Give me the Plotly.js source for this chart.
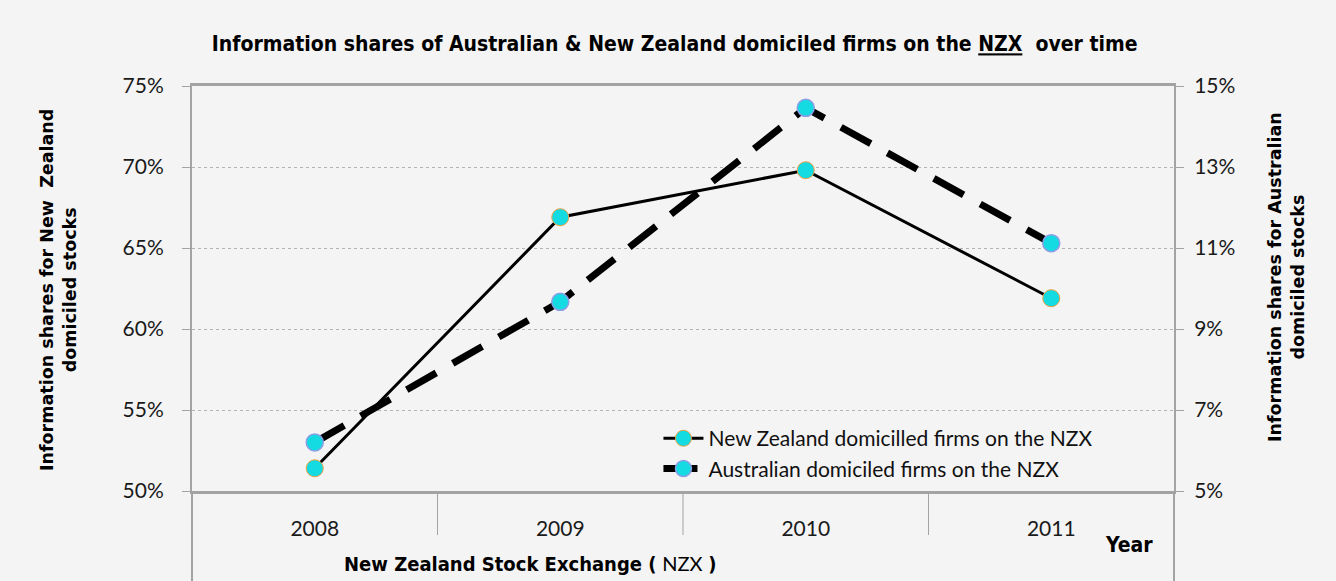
<!DOCTYPE html>
<html>
<head>
<meta charset="utf-8">
<script src="https://cdn.plot.ly/plotly-3.0.1.min.js"></script>
<style>html,body{margin:0;padding:0;background:#f4f4f4;}#chart{width:1336px;height:581px;}</style>
</head>
<body>
<div id="chart"></div>
<script>
const years = ['2008', '2009', '2010', '2011'];
const nzShares = [0.514, 0.669, 0.698, 0.619];
const auShares = [0.062, 0.0967, 0.1446, 0.1112];
const nzName = 'New Zealand domicilled firms on the NZX';
const auName = 'Australian domiciled firms on the NZX';
const titleText = 'Information shares of Australian &amp; New Zealand domiciled firms on the <u>NZX</u>  over time';
const leftTitle = 'Information shares for New  Zealand<br>domiciled stocks';
const rightTitle = 'Information shares for Australian<br>domiciled stocks';

const tickFont = {family: 'Lato, "Open Sans", sans-serif', size: 21, color: '#1a1a1a'};
const boldNarrow = '"DejaVu Sans Condensed", sans-serif';
const heavy = '"DejaVu Sans", sans-serif';
const axisGray = '#a3a3a3';

const traces = [
  {
    x: years, y: nzShares, name: nzName, type: 'scatter', mode: 'lines+markers',
    line: {color: '#000000', width: 3},
    marker: {size: 17, color: '#14dbe2', line: {color: '#f0a040', width: 1}},
    yaxis: 'y'
  },
  {
    x: years, y: auShares, name: auName, type: 'scatter', mode: 'lines+markers',
    line: {color: '#000000', width: 7, dash: '34px,19px'},
    marker: {size: 17, color: '#14dbe2', line: {color: '#8c9ee6', width: 1.5}},
    yaxis: 'y2'
  }
];

const plotH = 405;
const shapes = [];
[0.5, 1.5, 2.5].forEach(v => shapes.push({type: 'line', xref: 'x', yref: 'paper', x0: v, x1: v, y0: 0, y1: -44 / plotH, line: {color: axisGray, width: 1}}));
[0, 1].forEach(v => shapes.push({type: 'line', xref: 'paper', yref: 'paper', x0: v, x1: v, y0: 0, y1: -90 / plotH, line: {color: axisGray, width: 2}}));

const layout = {
  width: 1336, height: 581,
  paper_bgcolor: '#f4f4f4', plot_bgcolor: '#f4f4f4',
  margin: {l: 192, r: 162, t: 86, b: 90},
  showlegend: true,
  title: {
    text: '<b>' + titleText + '</b>',
    font: {family: boldNarrow, size: 21, color: '#000'},
    x: 0.505, xanchor: 'center', y: 1 - 44 / 581, yanchor: 'middle'
  },
  xaxis: {
    type: 'category', categoryorder: 'array', categoryarray: years,
    range: [-0.5, 3.5], showline: true, mirror: true, linecolor: axisGray, linewidth: 3,
    ticks: '', showgrid: false, zeroline: false, tickfont: tickFont, ticklabelstandoff: 17
  },
  yaxis: {
    range: [0.5, 0.75], dtick: 0.05, tick0: 0.5, tickformat: '.0%',
    showline: true, linecolor: axisGray, linewidth: 2,
    ticks: 'outside', ticklen: 8, tickcolor: axisGray, tickwidth: 1,
    showgrid: true, gridcolor: '#b4b4b4', griddash: 'dot', gridwidth: 1,
    zeroline: false, tickfont: tickFont, ticklabelstandoff: 14
  },
  yaxis2: {
    overlaying: 'y', side: 'right',
    range: [0.05, 0.15], dtick: 0.02, tick0: 0.05, tickformat: '.0%',
    showline: true, linecolor: axisGray, linewidth: 2,
    ticks: 'outside', ticklen: 8, tickcolor: axisGray, tickwidth: 1,
    showgrid: false, zeroline: false, tickfont: tickFont, ticklabelstandoff: 6
  },
  legend: {
    x: 0.475, y: 0.18, xanchor: 'left', yanchor: 'top',
    bgcolor: 'rgba(0,0,0,0)', font: {family: tickFont.family, size: 21, color: '#111'},
    tracegroupgap: 0, itemwidth: 40
  },
  shapes: shapes,
  annotations: [
    {text: '<b>' + leftTitle + '</b>', xref: 'paper', yref: 'paper', x: (58 - 192) / 982, y: (491 - 290) / plotH,
     xanchor: 'center', yanchor: 'middle', textangle: -90, showarrow: false,
     font: {family: heavy, size: 17.5, color: '#000'}},
    {text: '<b>' + rightTitle + '</b>', xref: 'paper', yref: 'paper', x: (1286 - 192) / 982, y: (491 - 277) / plotH,
     xanchor: 'center', yanchor: 'middle', textangle: -90, showarrow: false,
     font: {family: heavy, size: 17.5, color: '#000'}},
    {text: '<b>New Zealand Stock Exchange (</b> <span style="font-family:Lato">NZX</span> <b>)</b>', xref: 'paper', yref: 'paper',
     x: (530 - 192) / 982, y: (491 - 563) / plotH, xanchor: 'center', yanchor: 'middle', showarrow: false,
     font: {family: boldNarrow, size: 20, color: '#000'}},
    {text: '<b>Year</b>', xref: 'paper', yref: 'paper', x: (1129 - 192) / 982, y: (491 - 545) / plotH,
     xanchor: 'center', yanchor: 'middle', showarrow: false,
     font: {family: boldNarrow, size: 21, color: '#000'}}
  ]
};

Plotly.newPlot('chart', traces, layout, {displayModeBar: false, responsive: false});
</script>
</body>
</html>
